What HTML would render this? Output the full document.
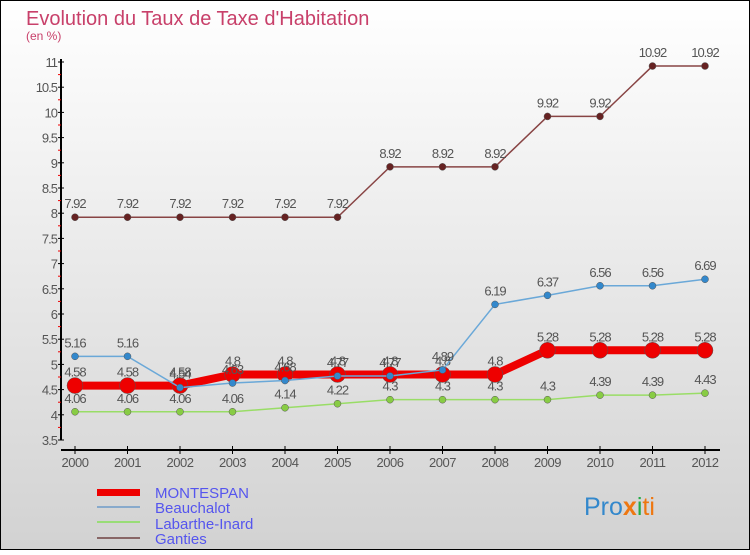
<!DOCTYPE html>
<html><head><meta charset="utf-8"><style>
body{margin:0}
#c{width:750px;height:550px;position:relative;font-family:"Liberation Sans",sans-serif}
</style></head><body>
<div id="c">
<svg id="s" width="750" height="550" xmlns="http://www.w3.org/2000/svg">
<defs><linearGradient id="bg" x1="0" y1="0" x2="0" y2="1"><stop offset="0" stop-color="#ffffff"/><stop offset="1" stop-color="#d2d2d2"/></linearGradient></defs>
<rect x="0.5" y="0.5" width="749" height="549" fill="url(#bg)" stroke="#000"/>
<text x="26" y="25" font-size="20" fill="#c8406a">Evolution du Taux de Taxe d'Habitation</text>
<text x="26" y="40" font-size="12" fill="#c8406a">(en %)</text>
<g id="g"></g>
<g>
<rect x="97" y="489" width="43" height="7" fill="#e00"/>
<text x="155" y="498" font-size="15" fill="#5555ee">MONTESPAN</text>
<line x1="97" y1="507" x2="140" y2="507" stroke="#88aacc" stroke-width="2"/>
<text x="155" y="513" font-size="15" fill="#5555ee">Beauchalot</text>
<line x1="97" y1="522" x2="140" y2="522" stroke="#99dd77" stroke-width="2"/>
<text x="155" y="529" font-size="15" fill="#5555ee">Labarthe-Inard</text>
<line x1="97" y1="538" x2="140" y2="538" stroke="#886666" stroke-width="2"/>
<text x="155" y="544" font-size="15" fill="#5555ee">Ganties</text>
</g>
<text x="584" y="515" font-size="25" fill="#3388cc">Pro<tspan fill="#ee7711" font-weight="bold">x</tspan><tspan fill="#22aa44">i</tspan><tspan fill="#ee7711">ti</tspan></text>
</svg></div>
<script>
const years=[2000,2001,2002,2003,2004,2005,2006,2007,2008,2009,2010,2011,2012];
const montespan=[4.58,4.58,4.58,4.8,4.8,4.8,4.8,4.8,4.8,5.28,5.28,5.28,5.28];
const beauchalot=[5.16,5.16,4.54,4.63,4.68,4.77,4.77,4.89,6.19,6.37,6.56,6.56,6.69];
const labarthe=[4.06,4.06,4.06,4.06,4.14,4.22,4.3,4.3,4.3,4.3,4.39,4.39,4.43];
const ganties=[7.92,7.92,7.92,7.92,7.92,7.92,8.92,8.92,8.92,9.92,9.92,10.92,10.92];
const yTicks=[3.5,4,4.5,5,5.5,6,6.5,7,7.5,8,8.5,9,9.5,10,10.5,11];
const NS="http://www.w3.org/2000/svg",g=document.getElementById('g');
const X=i=>75+i*52.5, Y=v=>440-(v-3.5)*50.4;
function mk(t,a,p){const e=document.createElementNS(NS,t);for(const k in a)e.setAttribute(k,a[k]);(p||g).appendChild(e);return e;}
let ax=mk('line',{x1:61,y1:Y(11)-3,x2:61,y2:440,stroke:'#000','stroke-width':2});


let xa=mk('line',{x1:61,y1:450,x2:720,y2:450,stroke:'#000','stroke-width':2});


yTicks.forEach(v=>{mk('line',{x1:58,y1:Y(v),x2:64,y2:Y(v),stroke:'#000'});
if(v<11)mk('line',{x1:58,y1:Y(v)-12.6,x2:61,y2:Y(v)-12.6,stroke:'#e00'});
let t=mk('text',{x:57,y:Y(v)+5,'font-size':13,'text-anchor':'end',fill:'#555','letter-spacing':'-1'});t.textContent=String(v);

});
years.forEach((y,i)=>{mk('line',{x1:X(i),y1:446,x2:X(i),y2:454,stroke:'#000'});
let t=mk('text',{x:X(i),y:467,'font-size':13,'text-anchor':'middle',fill:'#555','letter-spacing':'-0.5'});t.textContent=y;

});
function series(d,col,w,r,dot,name){
 const p=mk('polyline',{points:d.map((v,i)=>X(i)+','+Y(v)).join(' '),fill:'none',stroke:col,'stroke-width':w});
 
 
 d.forEach((v,i)=>{const c=mk('circle',{cx:X(i),cy:Y(v),r:r,fill:dot,stroke:'#555','stroke-width':0.5});
 
 
 const t=mk('text',{x:X(i),y:Y(v)-9,'font-size':13,'text-anchor':'middle',fill:'#555','letter-spacing':'-1'});t.textContent=String(v);
 
 });
}
series(ganties,'#884444',1.5,3.5,'#662222','ganties');
series(labarthe,'#99dd66',1.5,3.5,'#88cc44','labarthe-inard');
series(montespan,'#ee0000',8,8,'#ee0000','montespan');
series(beauchalot,'#6aa8d8',1.5,3.5,'#3388cc','beauchalot');
</script>
</body></html>
